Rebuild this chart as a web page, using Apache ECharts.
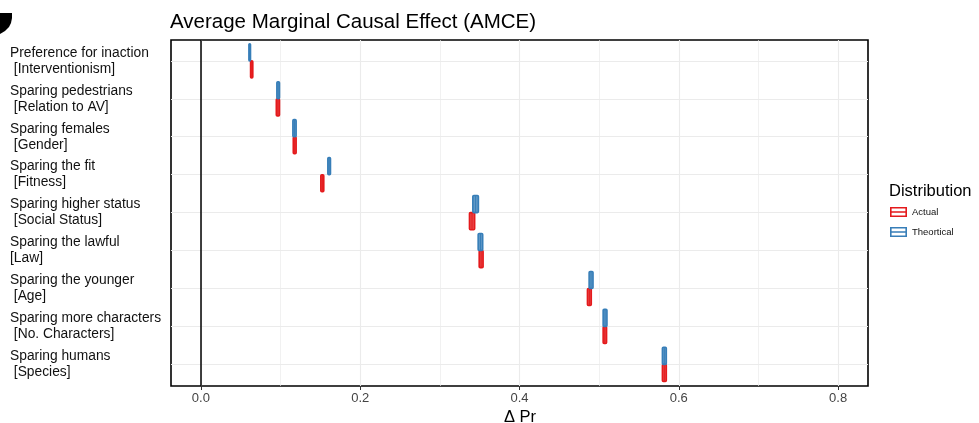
<!DOCTYPE html>
<html><head><meta charset="utf-8">
<script src="https://cdn.jsdelivr.net/npm/echarts@6/dist/echarts.min.js"></script>
<style>html,body{margin:0;padding:0;background:#fff}#c{width:979px;height:423px}</style>
</head><body><div id="c"></div>
<script>
const categories = ['Preference for inaction','Sparing pedestrians','Sparing females','Sparing the fit','Sparing higher status','Sparing the lawful','Sparing the younger','Sparing more characters','Sparing humans'];
const subLabels = [' [Interventionism]',' [Relation to AV]',' [Gender]',' [Fitness]',' [Social Status]','[Law]',' [Age]',' [No. Characters]',' [Species]'];
const theoLow    = [0.0603, 0.0954, 0.1155, 0.1594, 0.3414, 0.3481, 0.4874, 0.5050, 0.5794];
const theoHigh   = [0.0623, 0.0987, 0.1196, 0.1627, 0.3484, 0.3538, 0.4923, 0.5098, 0.5843];
const theoEst    = [0.0613, 0.0970, 0.1175, 0.1610, 0.3449, 0.3510, 0.4898, 0.5074, 0.5818];
const actualLow  = [0.0624, 0.0947, 0.1160, 0.1506, 0.3372, 0.3494, 0.4853, 0.5050, 0.5794];
const actualHigh = [0.0652, 0.0987, 0.1196, 0.1543, 0.3437, 0.3543, 0.4901, 0.5093, 0.5843];
const actualEst  = [0.0638, 0.0967, 0.1178, 0.1525, 0.3404, 0.3518, 0.4877, 0.5071, 0.5818];
const xTicks = [0, 0.2, 0.4, 0.6, 0.8];
const xGrid = [0, 0.1, 0.2, 0.3, 0.4, 0.5, 0.6, 0.7, 0.8];

const FONT = '"Liberation Sans", Arial, Helvetica, sans-serif';
const RED = '#E41A1C', BLUE = '#377EB8';

const chart = echarts.init(document.getElementById('c'), null, {renderer: 'canvas'});

function makeSeries(name, color, fill, lows, highs, ests, dir) {
  const data = categories.map((c, i) => [i + 1, lows[i], highs[i], ests[i]]);
  return {
    type: 'custom', name: name, z: 5, itemStyle: {color: color},
    encode: {x: [1, 2], y: 0}, data: data, silent: true,
    renderItem: function (params, api) {
      const cat = api.value(0), lo = api.value(1), hi = api.value(2), est = api.value(3);
      const y0 = dir < 0 ? cat - 0.45 : cat;
      const y1 = dir < 0 ? cat : cat + 0.45;
      const a = api.coord([lo, y0]), b = api.coord([hi, y1]), m = api.coord([est, y0]);
      const top = Math.min(a[1], b[1]), h = Math.abs(b[1] - a[1]);
      return {type: 'group', children: [
        {type: 'rect', shape: {x: a[0], y: top, width: b[0] - a[0], height: h, r: 1},
         style: {fill: fill, stroke: color, lineWidth: 1.6}},
        {type: 'line', shape: {x1: m[0], y1: top, x2: m[0], y2: top + h},
         style: {stroke: color, lineWidth: 1}}
      ]};
    }
  };
}

const gridLines = [];
xGrid.forEach(v => {
  const major = Math.abs((v * 10) % 2) < 1e-6;
  gridLines.push({xAxis: v, lineStyle: {color: '#ebebeb', width: major ? 1.1 : 0.7, type: 'solid'}});
});
categories.forEach((c, i) => {
  gridLines.push({yAxis: i + 1, lineStyle: {color: '#ebebeb', width: 1.1, type: 'solid'}});
});
gridLines.push({xAxis: 0, lineStyle: {color: '#000', width: 1.5, type: 'solid'}});

const legendIcon = 'path://M0,0H17V1.6H0Z M0,8.4H17V10H0Z M0,0H1.6V10H0Z M15.4,0H17V10H15.4Z M0,4.2H17V5.8H0Z';

chart.setOption({
  animation: false,
  backgroundColor: '#fff',
  textStyle: {fontFamily: FONT},
  grid: {left: 171, top: 40, right: 111, bottom: 37, outerBoundsMode: 'none', containLabel: false,
    show: true, borderColor: '#000', borderWidth: 1.6, backgroundColor: 'transparent'},
  xAxis: {
    type: 'value', min: -0.0375, max: 0.8375,
    axisLine: {show: false},
    splitLine: {show: false},
    axisTick: {show: true, length: 4, customValues: xTicks, lineStyle: {color: '#333', width: 1}},
    axisLabel: {customValues: xTicks, fontSize: 13, color: '#444', margin: 6, fontFamily: FONT,
      formatter: v => Number(v).toFixed(1)}
  },
  yAxis: {
    type: 'value', min: 0.45, max: 9.57, inverse: true,
    axisLine: {show: false},
    splitLine: {show: false},
    axisTick: {show: true, length: 4, customValues: [1,2,3,4,5,6,7,8,9], lineStyle: {color: '#999', width: 1}},
    axisLabel: {customValues: [1,2,3,4,5,6,7,8,9], align: 'left', margin: 161, fontSize: 13.8,
      lineHeight: 16, color: '#111', fontFamily: FONT, padding: [6, 0, 0, 0],
      formatter: v => categories[Math.round(v) - 1] + '\n' + subLabels[Math.round(v) - 1]}
  },
  legend: {
    data: [{name: 'Actual', icon: legendIcon}, {name: 'Theortical', icon: legendIcon}],
    orient: 'vertical', left: 890, top: 207, itemWidth: 17, itemHeight: 10, itemGap: 10,
    padding: 0, selectedMode: false,
    textStyle: {fontSize: 9.5, color: '#111', fontFamily: FONT}
  },
  graphic: [
    {type: 'text', x: 170, y: 12, style: {text: 'Average Marginal Causal Effect (AMCE)', font: '20.5px ' + FONT, fill: '#000'}},
    {type: 'text', x: 889, y: 183, style: {text: 'Distribution', font: '16.5px ' + FONT, fill: '#000'}},
    {type: 'text', x: 520, y: 417, style: {text: 'Δ Pr', font: '16.5px ' + FONT, fill: '#000', align: 'center', verticalAlign: 'middle'}},
    {type: 'polygon', shape: {points: [[0,13],[12,13],[12,18],[11,23],[9,27],[5,31],[0,34]]}, style: {fill: '#000'}}
  ],
  series: [
    {type: 'line', data: [], silent: true, z: 1,
     markLine: {symbol: ['none', 'none'], silent: true, animation: false, label: {show: false}, data: gridLines}},
    makeSeries('Actual', RED, 'rgba(228,26,28,0.8)', actualLow, actualHigh, actualEst, 1),
    makeSeries('Theortical', BLUE, 'rgba(55,126,184,0.8)', theoLow, theoHigh, theoEst, -1)
  ]
});
</script>
</body></html>
